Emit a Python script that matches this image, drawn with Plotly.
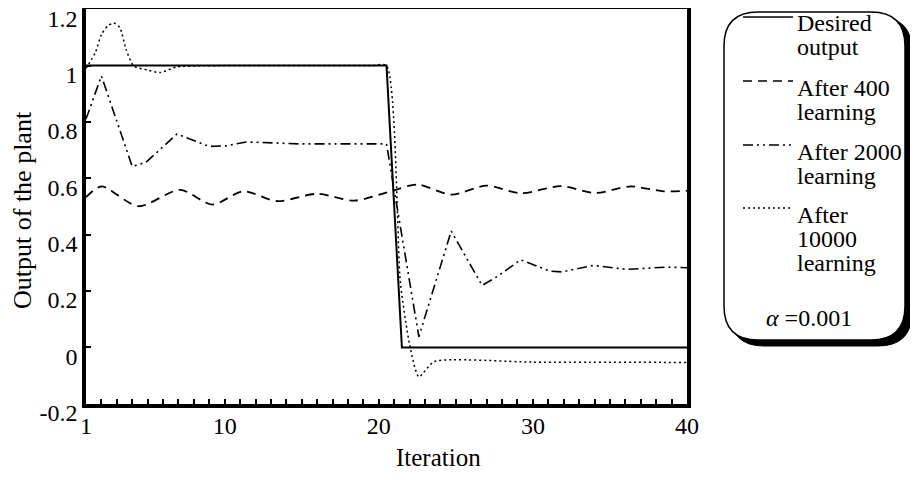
import plotly.graph_objects as go

# ---------------- data ----------------
desired_x = [1, 20.5, 21.5, 40]
desired_y = [1, 1, 0, 0]

l400_x = [1, 2.0, 4.4, 7.1, 9.2, 11.2, 13.4, 16.0, 18.4, 20.9, 22.5, 24.7, 27.0, 29.2, 31.8, 34.1, 36.3, 38.5, 40]
l400_y = [0.533, 0.571, 0.501, 0.559, 0.507, 0.554, 0.519, 0.545, 0.521, 0.556, 0.578, 0.542, 0.574, 0.547, 0.572, 0.548, 0.571, 0.554, 0.556]

l2000_x = [1, 2.0, 4.0, 4.9, 6.9, 9.0, 10.1, 11.4, 14.9, 17.0, 20.5, 22.6, 24.7, 26.7, 27.7, 29.2, 31.1, 31.9, 33.9, 36.1, 38.7, 40]
l2000_y = [0.81, 0.963, 0.642, 0.657, 0.757, 0.713, 0.715, 0.729, 0.722, 0.722, 0.722, 0.038, 0.413, 0.22, 0.252, 0.311, 0.271, 0.268, 0.291, 0.277, 0.285, 0.283]

l10000_x = [1, 1.6, 2.0, 2.4, 2.8, 3.2, 3.6, 4.1, 5.0, 5.8, 6.9, 12.0, 19.5, 20.5, 21.4, 22.0, 22.6, 23.6, 30.0, 40]
l10000_y = [0.99, 1.045, 1.11, 1.14, 1.151, 1.134, 1.057, 0.998, 0.984, 0.975, 0.995, 1.0, 1.0, 1.0, 0.23, 0.01, -0.104, -0.05, -0.052, -0.053]

x_tickvals = [1, 10, 20, 30, 40]
y_tickvals = [-0.2, 0, 0.2, 0.4, 0.6, 0.8, 1.0, 1.2]
y_ticktext = ["-0.2", "0", "0.2", "0.4", "0.6", "0.8", "1", "1.2"]

legend_names = [["Desired", "output"], ["After 400", "learning"],
                ["After 2000", "learning"], ["After", "10000", "learning"]]
alpha_text = "<i>α</i> =0.001"
x_title = "Iteration"
y_title = "Output of the plant"

# ---------------- styling ----------------
FONT = "Liberation Serif"
OFF = 8                       # default body margin of the html page
W, H = 918 - OFF, 483 - OFF
L, R, T, B = 86, 687, 9, 404  # plot area in screenshot pixels

DASH_400 = "9px,6px"
DASH_2000 = "10px,4px,2px,4px,2px,4px"
DASH_10000 = "2px,3px"

def px_x(px):
    return (px - L) / (R - L)

def px_y(py):
    return (B - py) / (B - T)

fig = go.Figure()
fig.add_trace(go.Scatter(x=desired_x, y=desired_y, mode="lines",
                         line=dict(color="black", width=2), name="Desired output"))
fig.add_trace(go.Scatter(x=l400_x, y=l400_y, mode="lines",
                         line=dict(color="black", width=1.8, dash=DASH_400, shape="spline", smoothing=0.8),
                         name="After 400 learning"))
fig.add_trace(go.Scatter(x=l2000_x, y=l2000_y, mode="lines",
                         line=dict(color="black", width=1.6, dash=DASH_2000),
                         name="After 2000 learning"))
fig.add_trace(go.Scatter(x=l10000_x, y=l10000_y, mode="lines",
                         line=dict(color="black", width=1.5, dash=DASH_10000, shape="spline", smoothing=0.6),
                         name="After 10000 learning"))

shapes = []
annotations = []

def rounded(x0, y0, x1, y1, r):
    rx = r / (R - L)
    ry = r / (B - T)
    X0, X1 = px_x(x0), px_x(x1)
    Y0, Y1 = px_y(y0), px_y(y1)
    return (f"M {X0+rx},{Y0} L {X1-rx},{Y0} Q {X1},{Y0} {X1},{Y0-ry} "
            f"L {X1},{Y1+ry} Q {X1},{Y1} {X1-rx},{Y1} "
            f"L {X0+rx},{Y1} Q {X0},{Y1} {X0},{Y1+ry} "
            f"L {X0},{Y0-ry} Q {X0},{Y0} {X0+rx},{Y0} Z")

bx0, by0, bx1, by1, br = 724, 12, 905, 340, 34
shapes.append(dict(type="path", xref="paper", yref="paper",
                   path=rounded(bx0 + 6, by0 + 5, bx1 + 7, by1 + 6, br),
                   fillcolor="black", line=dict(color="black", width=1)))
shapes.append(dict(type="path", xref="paper", yref="paper",
                   path=rounded(bx0, by0, bx1, by1, br),
                   fillcolor="white", line=dict(color="black", width=1.5)))

LEG_SIZE = 24
LINE_GAP = 23.8                 # pixel distance between lines of one entry
sample_y = [17, 81, 145, 208]
first_row_y = [23, 88, 152, 215]
dashes = ["solid", DASH_400, DASH_2000, DASH_10000]
for sy, fy, names, d in zip(sample_y, first_row_y, legend_names, dashes):
    shapes.append(dict(type="line", xref="paper", yref="paper",
                       x0=px_x(743), x1=px_x(793), y0=px_y(sy), y1=px_y(sy),
                       line=dict(color="black", width=1.5, dash=d)))
    txt = "<br>".join(f"<span style='font-size:{LEG_SIZE}px'>{n}</span>" for n in names)
    mid = fy + LINE_GAP * (len(names) - 1) / 2
    annotations.append(dict(x=px_x(795), y=px_y(mid), xref="paper", yref="paper",
                            text=txt, showarrow=False, xanchor="left", yanchor="middle",
                            align="left",
                            font=dict(family=FONT, size=LINE_GAP / 1.3, color="black")))

annotations.append(dict(x=px_x(809), y=px_y(318), xref="paper", yref="paper",
                        text=alpha_text, showarrow=False, xanchor="center", yanchor="middle",
                        font=dict(family=FONT, size=24, color="black")))

annotations.append(dict(x=px_x(438), y=px_y(457), xref="paper", yref="paper",
                        text=x_title, showarrow=False, xanchor="center", yanchor="middle",
                        font=dict(family=FONT, size=25, color="black")))
annotations.append(dict(x=px_x(22), y=px_y(210), xref="paper", yref="paper",
                        text=y_title, showarrow=False, textangle=-90,
                        xanchor="center", yanchor="middle",
                        font=dict(family=FONT, size=26, color="black")))

fig.update_layout(
    width=W, height=H,
    margin=dict(l=L - OFF, r=W - (R - OFF), t=T - OFF, b=H - (B - OFF), pad=0, autoexpand=False),
    paper_bgcolor="white", plot_bgcolor="white",
    showlegend=False,
    shapes=shapes, annotations=annotations,
    font=dict(family=FONT, size=24, color="black"),
    xaxis=dict(range=[1, 40], showgrid=False, zeroline=False, automargin=False,
               showline=True, linecolor="black", linewidth=3.5, mirror=True,
               ticks="inside", ticklen=5, tickwidth=1.5, tickcolor="black",
               tickvals=x_tickvals, ticklabelstandoff=-3,
               minor=dict(ticks="inside", dtick=1, tick0=1, ticklen=5, tickwidth=1.5, tickcolor="black"),
               tickfont=dict(family=FONT, size=24, color="black")),
    yaxis=dict(range=[-0.2005, 1.2005], showgrid=False, zeroline=False, automargin=False,
               showline=True, linecolor="black", linewidth=3.5, mirror=True,
               ticks="inside", ticklen=5, tickwidth=1.5, tickcolor="black",
               tickvals=y_tickvals, ticktext=y_ticktext, ticklabelshift=9,
               ticklabeloverflow="allow",
               tickfont=dict(family=FONT, size=24, color="black")),
)

fig.write_html("out.html")
